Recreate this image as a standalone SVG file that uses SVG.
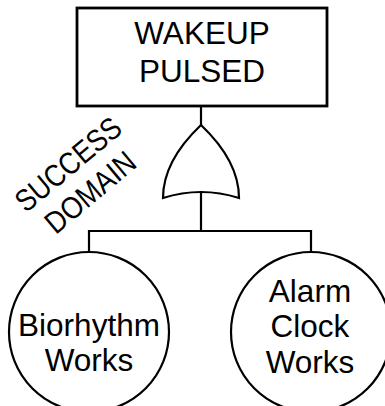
<svg xmlns="http://www.w3.org/2000/svg" width="385" height="406" viewBox="0 0 385 406">
<style>
.shape{fill:#fff;stroke:#000;stroke-width:2.2}
.box{fill:#fff;stroke:#000;stroke-width:2.8}
.wire{fill:none;stroke:#000;stroke-width:2.2}
text{font-family:"Liberation Sans",Arial,sans-serif;fill:#000;text-anchor:middle}
.lbl{font-size:31.5px}
.dom{font-size:31px}
</style>
<rect width="385" height="406" fill="#fff"/>
<g id="connectors">
<path class="wire" d="M201,106 V125"/>
<path class="wire" d="M201,192 V231 M89,231 H311 M89,230 V252 M311,230 V252"/>
</g>
<g id="top-event">
<rect class="box" x="77" y="8" width="250" height="98"/>
<text class="lbl" x="202" y="44">WAKEUP</text>
<text class="lbl" x="202" y="81.5">PULSED</text>
</g>
<g id="or-gate">
<path class="shape" d="M201,125 C180,145 163,170 163,198 Q201,186 239,198 C239,170 222,145 201,125 Z"/>
</g>
<g id="success-domain">
<text class="dom" transform="translate(68,164) rotate(-40)" x="0" y="11" textLength="128" lengthAdjust="spacingAndGlyphs">SUCCESS</text>
<text class="dom" transform="translate(90,192) rotate(-40)" x="0" y="11" textLength="108" lengthAdjust="spacingAndGlyphs">DOMAIN</text>
</g>
<g id="biorhythm">
<circle class="shape" cx="89" cy="332" r="80"/>
<text class="lbl" x="89" y="335.5">Biorhythm</text>
<text class="lbl" x="89" y="370.5">Works</text>
</g>
<g id="alarm-clock">
<circle class="shape" cx="311" cy="332" r="80"/>
<text class="lbl" x="310" y="301.5">Alarm</text>
<text class="lbl" x="310" y="337">Clock</text>
<text class="lbl" x="310" y="372.5">Works</text>
</g>
</svg>
